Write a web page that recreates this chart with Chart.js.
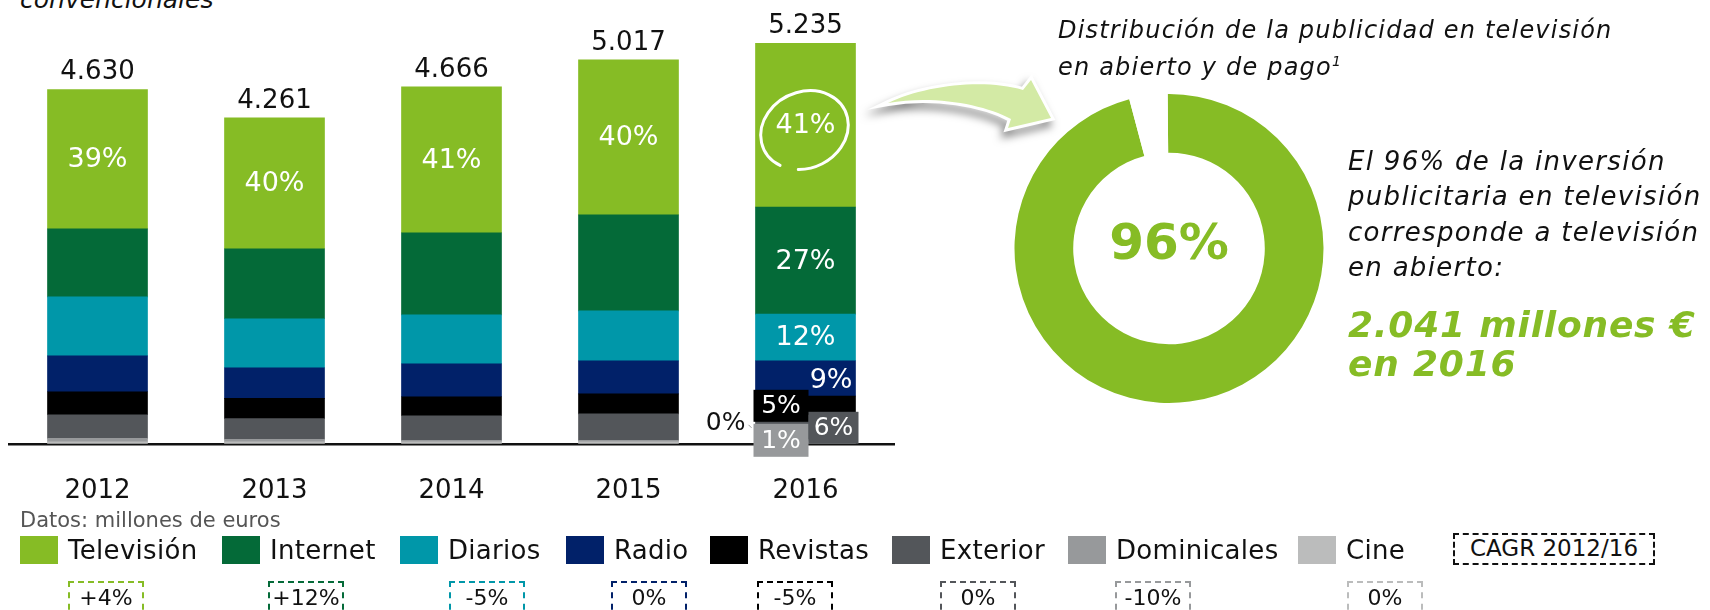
<!DOCTYPE html>
<html lang="es">
<head>
<meta charset="utf-8">
<script src="https://cdn.jsdelivr.net/npm/chart.js@4.4.1/dist/chart.umd.min.js"></script>
<style>
  body { margin: 0; width: 1710px; height: 610px; overflow: hidden; background: #fff;
         font-family: 'DejaVu Sans', Verdana, sans-serif; color: #111; position: relative; }
  .abs { position: absolute; white-space: nowrap; }
  .cuadro { position: absolute; width: 38px; height: 28px; top: 536px; }
  .nombre { position: absolute; top: 534px; font-size: 26px; line-height: 32px; letter-spacing: 0.3px; }
  .cagr { position: absolute; top: 581px; height: 40px; box-sizing: border-box; border: 2px dashed;
          font-size: 22px; line-height: 30px; text-align: center; }
</style>
</head>
<body>
<div class="abs" style="left:20px;top:-15px;font-style:italic;font-size:25px;line-height:29px;">convencionales</div>
<canvas id="barras" width="900" height="539" style="position:absolute;left:0;top:0"></canvas>
<canvas id="rosca" width="620" height="360" style="position:absolute;left:860px;top:60px"></canvas>

<div class="abs" style="left:1058px;top:15px;font-style:italic;font-size:24px;line-height:31px;letter-spacing:1.2px;">Distribución de la publicidad en televisión<br>en abierto y de pago<sup style="font-size:14px;vertical-align:9px">1</sup></div>
<div class="abs" style="left:1348px;top:144px;font-style:italic;font-size:26px;line-height:35.3px;letter-spacing:1.3px;">El 96% de la inversión<br>publicitaria en televisión<br>corresponde a televisión<br>en abierto:</div>
<div class="abs" style="left:1348px;top:305px;font-style:italic;font-weight:bold;font-size:36px;line-height:39px;letter-spacing:0.8px;color:#86bc25;">2.041 millones €<br>en 2016</div>

<div class="abs" style="left:20px;top:507px;font-size:21px;line-height:26px;color:#555;">Datos: millones de euros</div>
<div id="leyenda"></div>
<div class="abs" style="left:1453px;top:533px;width:202px;height:32px;box-sizing:border-box;border:2px dashed #111;font-size:23px;line-height:27px;text-align:center;">CAGR 2012/16</div>

<script>
// Datos (millones de euros)
const anios = ['2012', '2013', '2014', '2015', '2016'];
const television = [1820, 1712, 1908, 2025, 2140];
const internet = [890, 915, 1072, 1254, 1400];
const diarios = [770, 640, 640, 654, 610];
const radio = [470, 400, 431, 431, 460];
const revistas = [300, 265, 248, 261, 250];
const exterior = [310, 269, 322, 347, 320];
const dominicales = [45, 35, 20, 20, 30];
const cine = [25, 25, 25, 25, 25];

const medios = ['Televisión', 'Internet', 'Diarios', 'Radio', 'Revistas', 'Exterior', 'Dominicales', 'Cine'];
const cagr = ['+4%', '+12%', '-5%', '0%', '-5%', '0%', '-10%', '0%'];

// Distribución TV en abierto / de pago (%)
const tvTipos = ['En abierto', 'De pago'];
const tvReparto = [96, 4];

const colores = ['#86bc25', '#046a38', '#0097a9', '#012169', '#000000', '#53565a', '#97999b', '#bbbcbc'];
const series = [television, internet, diarios, radio, revistas, exterior, dominicales, cine];

Chart.defaults.font.family = "'DejaVu Sans', Verdana, sans-serif";
Chart.defaults.color = '#111';

function formatoMiles(n) {
  return String(n).replace(/\B(?=(\d{3})+(?!\d))/g, '.');
}
function totalAnio(i) {
  return series.reduce((s, arr) => s + arr[i], 0);
}
function pct(serie, i) {
  return Math.round(serie[i] / totalAnio(i) * 100) + '%';
}

// datasets: el primero queda abajo en la pila, asi que se invierte el orden
const datasets = medios.map((m, k) => ({
  label: m,
  data: series[k],
  backgroundColor: colores[k],
  borderWidth: 0,
  barThickness: 100
})).reverse();

// Etiquetas sobre las barras
const etiquetas = {
  id: 'etiquetas',
  afterDatasetsDraw(chart) {
    const ctx = chart.ctx;
    const idx = m => medios.length - 1 - medios.indexOf(m);
    const tvMeta = chart.getDatasetMeta(idx('Televisión'));
    ctx.save();
    ctx.textAlign = 'center';
    ctx.textBaseline = 'middle';
    tvMeta.data.forEach((el, i) => {
      // total
      ctx.fillStyle = '#111';
      ctx.font = "26px 'DejaVu Sans'";
      ctx.fillText(formatoMiles(totalAnio(i)), el.x, el.y - 17);
      // % televisión
      ctx.fillStyle = '#fff';
      ctx.font = "27px 'DejaVu Sans'";
      ctx.fillText(pct(television, i), el.x, (el.y + el.base) / 2 + 1);
    });
    const u = anios.length - 1;
    const elTv = tvMeta.data[u];
    // circulo a mano alzada
    ctx.strokeStyle = '#fff';
    ctx.lineWidth = 3;
    ctx.lineCap = 'round';
    ctx.beginPath();
    ctx.ellipse(elTv.x - 1, (elTv.y + elTv.base) / 2 + 5, 45, 38, -0.45, 2.55, 2.55 + Math.PI * 2 - 0.45);
    ctx.stroke();

    ctx.fillStyle = '#fff';
    ctx.font = "27px 'DejaVu Sans'";
    ['Internet', 'Diarios'].forEach(m => {
      const el = chart.getDatasetMeta(idx(m)).data[u];
      ctx.fillText(pct(series[medios.indexOf(m)], u), el.x, (el.y + el.base) / 2 + 1);
    });
    const elRad = chart.getDatasetMeta(idx('Radio')).data[u];
    ctx.textAlign = 'right';
    ctx.fillText(pct(radio, u), elRad.x + elRad.width / 2 - 3, (elRad.y + elRad.base) / 2 + 3);
    ctx.restore();
  },
  afterDraw(chart) {
    // cajas de las categorias pequeñas en 2016
    const ctx = chart.ctx;
    const u = anios.length - 1;
    const el = chart.getDatasetMeta(0).data[u];
    const base = el.base;
    const izq = el.x - el.width / 2;
    const der = el.x + el.width / 2;
    const caja = (x0, x1, y0, y1, color, texto) => {
      ctx.fillStyle = color;
      ctx.fillRect(x0, y0, x1 - x0, y1 - y0);
      ctx.fillStyle = '#fff';
      ctx.fillText(texto, (x0 + x1) / 2, (y0 + y1) / 2 + 1);
    };
    ctx.save();
    ctx.font = "25px 'DejaVu Sans'";
    ctx.textAlign = 'center';
    ctx.textBaseline = 'middle';
    caja(izq - 2, el.x + 3, base - 54, base - 22, colores[4], pct(revistas, u));
    caja(izq - 2, el.x + 3, base - 20, base + 13, colores[6], pct(dominicales, u));
    caja(el.x + 3, der + 3, base - 32, base, colores[5], pct(exterior, u));
    ctx.fillStyle = '#111';
    ctx.textAlign = 'right';
    ctx.fillText(pct(cine, u), izq - 10, base - 20);
    // pequeña guía del 0%
    ctx.strokeStyle = '#999';
    ctx.lineWidth = 1;
    ctx.beginPath();
    ctx.moveTo(izq - 7, base - 19);
    ctx.lineTo(izq - 4, base - 16);
    ctx.stroke();
    ctx.restore();
  }
};

new Chart(document.getElementById('barras'), {
  type: 'bar',
  data: { labels: anios, datasets: datasets },
  options: {
    responsive: false,
    animation: false,
    layout: { padding: { left: 9, right: 6, top: 23, bottom: 0 } },
    plugins: { legend: { display: false }, tooltip: { enabled: false } },
    scales: {
      x: {
        stacked: true,
        grid: { display: false, drawTicks: false },
        border: { display: true, color: '#111', width: 2.5 },
        ticks: { color: '#111', font: { size: 26 }, padding: 32 }
      },
      y: { stacked: true, display: false, min: 0, max: 5500 }
    }
  },
  plugins: [etiquetas]
});

// flecha curva y texto central del anillo
const flecha = {
  id: 'flecha',
  beforeDraw(chart) {
    const ctx = chart.ctx;
    ctx.save();
    ctx.translate(3, 4);
    ctx.beginPath();
    ctx.moveTo(25, 39);
    ctx.bezierCurveTo(60, 22, 120, 14, 160, 26);
    ctx.lineTo(168, 16);
    ctx.lineTo(188, 54);
    ctx.lineTo(145, 64);
    ctx.lineTo(148, 55);
    ctx.bezierCurveTo(120, 40, 70, 31, 25, 39);
    ctx.closePath();
    ctx.shadowColor = 'rgba(0,0,0,0.5)';
    ctx.shadowBlur = 8;
    ctx.shadowOffsetX = -3;
    ctx.shadowOffsetY = 6;
    ctx.lineJoin = 'miter';
    ctx.lineWidth = 6;
    ctx.strokeStyle = '#ffffff';
    ctx.stroke();
    ctx.shadowColor = 'transparent';
    ctx.fillStyle = '#d3eaa5';
    ctx.fill();
    ctx.restore();
  },
  afterDraw(chart) {
    const ctx = chart.ctx;
    const a = chart.chartArea;
    ctx.save();
    ctx.fillStyle = '#86bc25';
    ctx.font = "bold 50px 'DejaVu Sans'";
    ctx.textAlign = 'center';
    ctx.textBaseline = 'middle';
    ctx.fillText(tvReparto[0] + '%', (a.left + a.right) / 2, (a.top + a.bottom) / 2 - 2);
    ctx.restore();
  }
};

new Chart(document.getElementById('rosca'), {
  type: 'doughnut',
  data: {
    labels: tvTipos,
    datasets: [{ data: tvReparto, backgroundColor: ['#86bc25', '#ffffff'], borderWidth: 0 }]
  },
  options: {
    responsive: false,
    animation: false,
    cutout: '62%',
    rotation: -0.5,
    layout: { padding: { left: 154, right: 156, top: 34, bottom: 17 } },
    plugins: { legend: { display: false }, tooltip: { enabled: false } }
  },
  plugins: [flecha]
});

// Leyenda y CAGR
const leyendaX = [20, 222, 400, 566, 710, 892, 1068, 1298];
const cagrX = [68, 268, 449, 611, 757, 940, 1115, 1347];
const cont = document.getElementById('leyenda');
medios.forEach((m, k) => {
  const c = document.createElement('div');
  c.className = 'cuadro';
  c.style.left = leyendaX[k] + 'px';
  c.style.background = colores[k];
  cont.appendChild(c);
  const t = document.createElement('div');
  t.className = 'nombre';
  t.style.left = (leyendaX[k] + 48) + 'px';
  t.textContent = m;
  cont.appendChild(t);
  const g = document.createElement('div');
  g.className = 'cagr';
  g.style.left = cagrX[k] + 'px';
  g.style.width = '76px';
  g.style.borderColor = colores[k];
  g.textContent = cagr[k];
  cont.appendChild(g);
});
</script>
</body>
</html>
